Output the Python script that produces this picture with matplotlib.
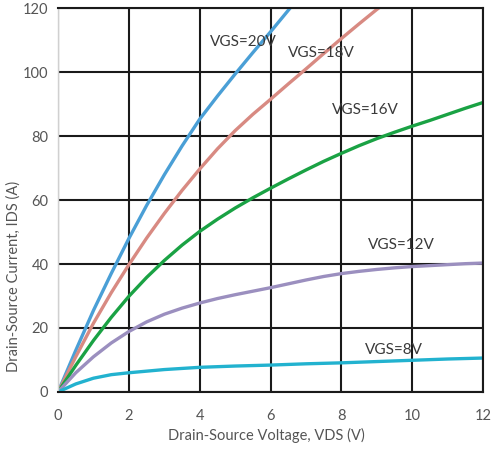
import numpy as np
import matplotlib.pyplot as plt

plt.rcParams['font.family'] = ['Lato', 'DejaVu Sans']

# output characteristics, VDS (V) -> IDS (A)
vds_20 = [0, 0.5, 1, 1.5, 2, 2.5, 3, 3.5, 4, 4.5, 5, 5.5, 6, 6.55]
ids_20 = [0, 13, 25.5, 37, 48, 58.3, 67.9, 76.9, 85.3, 92.5, 99.4, 106.1, 112.6, 120]

vds_18 = [0, 0.5, 1, 1.5, 2, 2.5, 3, 3.5, 4, 4.5, 5, 5.5, 6, 6.5, 7, 7.5, 8, 8.5, 9, 9.05]
ids_18 = [0, 11, 21.5, 31, 39.8, 48.1, 55.8, 63, 69.7, 76, 81.7, 86.8, 91.5, 96.3,
          101, 105.8, 110.5, 115.1, 119.6, 120]

vds_16 = [0, 0.5, 1, 1.5, 2, 2.5, 3, 3.5, 4, 4.5, 5, 5.5, 6, 6.5, 7, 7.5, 8, 8.5,
          9, 9.5, 10, 10.5, 11, 11.5, 12]
ids_16 = [0, 8.3, 16.1, 23.3, 29.9, 35.8, 41.1, 45.9, 50.2, 54, 57.5, 60.7, 63.7,
          66.6, 69.4, 72.1, 74.6, 77, 79.2, 81.2, 83.1, 84.9, 86.8, 88.7, 90.5]

vds_12 = [0, 0.5, 1, 1.5, 2, 2.5, 3, 3.5, 4, 4.5, 5, 5.5, 6, 6.5, 7, 7.5, 8, 8.5,
          9, 9.5, 10, 10.5, 11, 11.5, 12]
ids_12 = [0, 6, 11, 15.3, 18.9, 21.9, 24.3, 26.2, 27.8, 29.2, 30.4, 31.5, 32.6, 33.8,
          35, 36.1, 37, 37.7, 38.3, 38.8, 39.2, 39.5, 39.8, 40.1, 40.3]

vds_8 = [0, 0.5, 1, 1.5, 2, 2.5, 3, 4, 5, 6, 7, 8, 9, 10, 11, 12]
ids_8 = [0, 2.5, 4.3, 5.4, 6, 6.5, 7, 7.7, 8.1, 8.4, 8.8, 9.1, 9.5, 9.9, 10.3, 10.6]

curve_labels = ['VGS=20V', 'VGS=18V', 'VGS=16V', 'VGS=12V', 'VGS=8V']
label_x = [4.29, 6.5, 7.74, 8.76, 8.67]
label_y = [109.5, 106, 88, 46, 13]

fig = plt.figure(figsize=(4.92, 4.5), dpi=100)
ax = fig.add_axes([0.118, 0.129, 0.864, 0.853])

ax.plot(vds_20, ids_20, color='#4a9fd6', lw=2.4)
ax.plot(vds_18, ids_18, color='#d88a82', lw=2.4)
ax.plot(vds_16, ids_16, color='#1aa244', lw=2.4)
ax.plot(vds_12, ids_12, color='#9b8fbf', lw=2.4)
ax.plot(vds_8, ids_8, color='#22b2cf', lw=2.4)

for txt, x, y in zip(curve_labels, label_x, label_y):
    ax.text(x, y, txt, fontsize=11, color='#3a3a3a', va='center', ha='left')

ax.set_xlim(0, 12)
ax.set_ylim(0, 120)
ax.set_xticks(np.arange(0, 13, 2))
ax.set_yticks(np.arange(0, 121, 20))
ax.grid(True, color='#1a1a1a', lw=1.5)
ax.set_axisbelow(True)
for s in ax.spines.values():
    s.set_color('#1a1a1a')
    s.set_linewidth(1.5)
ax.spines['left'].set_color('#d0d0d0')
ax.spines['left'].set_linewidth(1.0)
ax.tick_params(length=0, labelsize=10.5, colors='#555555')
ax.tick_params(axis='x', pad=12)
ax.tick_params(axis='y', pad=7)

ax.set_xlabel('Drain-Source Voltage, VDS (V)', fontsize=10.5, color='#555555')
ax.set_ylabel('Drain-Source Current, IDS (A)', fontsize=10.5, color='#555555')
ax.xaxis.set_label_coords(0.49, -0.095)
ax.yaxis.set_label_coords(-0.088, 0.30)

fig.savefig('out.png', dpi=100)
